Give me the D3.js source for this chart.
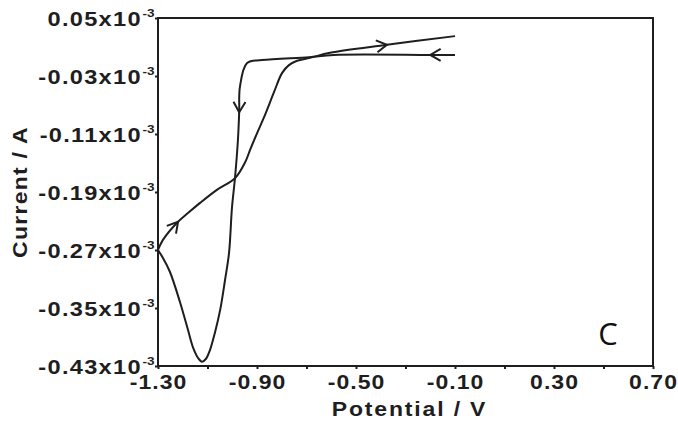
<!DOCTYPE html>
<html>
<head>
<meta charset="utf-8">
<script src="https://cdn.jsdelivr.net/npm/d3@7"></script>
<style>
  html, body { margin: 0; padding: 0; background: #fff; }
  svg { display: block; }
  .lbl { font-family: "Liberation Sans", Arial, sans-serif; font-weight: bold; fill: #1e1e1e; }
</style>
</head>
<body>
<svg id="chart" width="678" height="432"></svg>
<script>
// Cyclic voltammogram: current (x10^-3 A) against potential (V)
// Cathodic sweep: -0.10 V down to -1.30 V
const cathodicV = [-0.10, -0.20, -0.59, -0.69, -0.88, -0.94, -0.969, -0.972, -0.977, -0.989, -1.001, -1.013, -1.029, -1.049, -1.070, -1.090, -1.106, -1.122, -1.138, -1.159, -1.179, -1.211, -1.252, -1.28, -1.30];
const cathodicI = [-0.001, -0.001, -0.001, -0.004, -0.008, -0.012, -0.045, -0.080, -0.118, -0.171, -0.211, -0.274, -0.311, -0.353, -0.384, -0.408, -0.420, -0.424, -0.419, -0.404, -0.380, -0.342, -0.300, -0.281, -0.270];
// Anodic sweep: -1.30 V back up to -0.10 V
const anodicV = [-1.30, -1.28, -1.219, -1.179, -1.13, -1.062, -0.989, -0.948, -0.928, -0.900, -0.868, -0.831, -0.799, -0.771, -0.738, -0.686, -0.605, -0.375, -0.10];
const anodicI = [-0.270, -0.256, -0.231, -0.219, -0.205, -0.187, -0.171, -0.149, -0.132, -0.109, -0.084, -0.052, -0.026, -0.015, -0.009, -0.005, 0.002, 0.013, 0.025];

// Sweep-direction arrows: branch and point index of each arrow tip
const arrowBranch = ["cathodic", "cathodic", "anodic", "anodic"];
const arrowIndex = [1, 7, 2, 17];

const xMajorTicks = [-1.30, -0.90, -0.50, -0.10, 0.30, 0.70];
const xMinorTicks = [-1.10, -0.70, -0.30, 0.10, 0.50];
const yTicks = [0.05, -0.03, -0.11, -0.19, -0.27, -0.35, -0.43];
const yExponent = "-3";
const xTitle = "Potential / V";
const yTitle = "Current / A";
const panelLetter = "C";

const svg = d3.select("#chart");
const plotLeft = 158, plotRight = 653, plotTop = 18, plotBottom = 366;

const x = d3.scaleLinear().domain([-1.30, 0.70]).range([plotLeft, plotRight]);
const y = d3.scaleLinear().domain([-0.43, 0.05]).range([plotBottom, plotTop]);

const ink = "#1e1e1e";
const sx = 1.15; // horizontal stretch of the axis lettering
const fs = 20;

// Frame
svg.append("rect")
  .attr("x", plotLeft).attr("y", plotTop)
  .attr("width", plotRight - plotLeft).attr("height", plotBottom - plotTop)
  .attr("fill", "none").attr("stroke", ink).attr("stroke-width", 2);

// Tick labels use a plain hyphen for the sign
const fmt = d => d.toFixed(2);

// X axis
const xAxis = svg.append("g")
  .attr("transform", `translate(0,${plotBottom})`)
  .call(d3.axisBottom(x).tickValues(xMajorTicks.concat(xMinorTicks)).tickSize(3).tickSizeOuter(0)
    .tickFormat(d => xMajorTicks.includes(d) ? fmt(d) : ""));
xAxis.select(".domain").remove();
xAxis.selectAll(".tick line").attr("stroke", ink).attr("stroke-width", 2);
xAxis.selectAll(".tick text")
  .attr("class", "lbl")
  .attr("y", 9)
  .attr("dy", "0.71em")
  .attr("font-size", fs)
  .attr("letter-spacing", 0.9)
  .attr("transform", `scale(${sx},1)`);

// Y axis
const yAxis = svg.append("g")
  .attr("transform", `translate(${plotLeft},0)`)
  .call(d3.axisLeft(y).tickValues(yTicks).tickSize(3).tickSizeOuter(0).tickFormat(""));
yAxis.select(".domain").remove();
yAxis.selectAll(".tick line").attr("stroke", ink).attr("stroke-width", 2);
yAxis.selectAll(".tick").each(function(d) {
  const t = d3.select(this).append("text")
    .attr("class", "lbl")
    .attr("x", -3)
    .attr("dy", "0.36em")
    .attr("text-anchor", "end")
    .attr("font-size", fs)
    .attr("letter-spacing", 1.1)
    .attr("transform", `scale(1.18,1)`);
  t.append("tspan").text(fmt(d) + "x10");
  t.append("tspan").attr("dy", -9).attr("dx", 0.5).attr("font-size", 11.5).attr("letter-spacing", 0).text(yExponent);
});

// Axis titles
svg.append("text")
  .attr("class", "lbl")
  .attr("transform", `translate(${(plotLeft + plotRight) / 2 + 4},416) scale(${sx},1)`)
  .attr("text-anchor", "middle")
  .attr("font-size", fs)
  .attr("letter-spacing", 1.6)
  .text(xTitle);

svg.append("text")
  .attr("class", "lbl")
  .attr("transform", `translate(27,192) rotate(-90) scale(${sx},1)`)
  .attr("text-anchor", "middle")
  .attr("font-size", fs)
  .attr("letter-spacing", 1.1)
  .text(yTitle);

// Panel letter
svg.append("text")
  .attr("x", 608).attr("y", 345)
  .attr("text-anchor", "middle")
  .attr("font-family", "'Open Sans', 'Noto Sans', sans-serif")
  .attr("font-size", 31)
  .attr("fill", "#111")
  .text(panelLetter);

// Curves
const branches = {
  cathodic: cathodicV.map((v, i) => [v, cathodicI[i]]),
  anodic: anodicV.map((v, i) => [v, anodicI[i]])
};
const line = d3.line().x(d => x(d[0])).y(d => y(d[1])).curve(d3.curveCatmullRom.alpha(0.5));

["cathodic", "anodic"].forEach(k => {
  svg.append("path")
    .attr("d", line(branches[k]))
    .attr("fill", "none")
    .attr("stroke", ink)
    .attr("stroke-width", 2)
    .attr("stroke-linejoin", "round");
});

// Arrowheads (open chevrons pointing along the sweep)
const armLen = 12, half = Math.PI / 6;
arrowBranch.forEach((b, k) => {
  const pts = branches[b];
  const i = arrowIndex[k];
  const tx = x(pts[i][0]), ty = y(pts[i][1]);
  const px = x(pts[i - 1][0]), py = y(pts[i - 1][1]);
  const ang = Math.atan2(ty - py, tx - px);
  const a1 = ang + Math.PI - half, a2 = ang + Math.PI + half;
  svg.append("path")
    .attr("d", `M${tx + armLen * Math.cos(a1)},${ty + armLen * Math.sin(a1)}L${tx},${ty}L${tx + armLen * Math.cos(a2)},${ty + armLen * Math.sin(a2)}`)
    .attr("fill", "none")
    .attr("stroke", ink)
    .attr("stroke-width", 2)
    .attr("stroke-linejoin", "miter");
});
</script>
</body>
</html>
